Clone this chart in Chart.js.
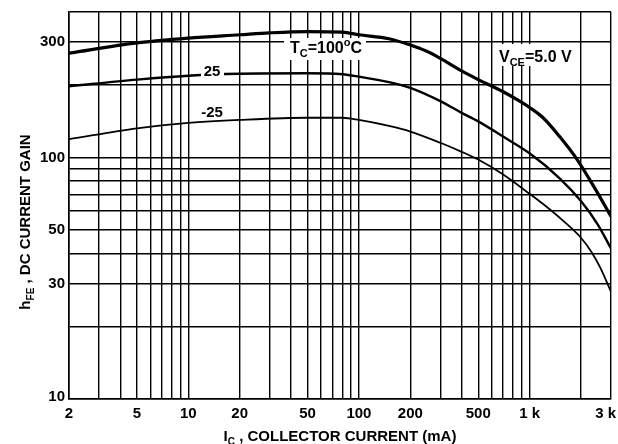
<!DOCTYPE html>
<html>
<head>
<meta charset="utf-8">
<script src="https://cdn.jsdelivr.net/npm/chart.js@4.4.1/dist/chart.umd.min.js"></script>
<style>
  html, body { margin: 0; padding: 0; background: #fff; }
  canvas { display: block; }
</style>
</head>
<body>
<canvas id="chart-hfe" width="618" height="444"></canvas>
<script>
// hFE vs collector current, three case temperatures (VCE = 5.0 V)

// grid + tick values
const gridCurrent = [2, 3, 4, 5, 6, 7, 8, 9, 10, 20, 30, 40, 50, 60, 70, 80, 90,
    100, 200, 300, 400, 500, 600, 700, 800, 900, 1000, 2000, 3000];
const gridGain = [10, 20, 30, 40, 50, 60, 70, 80, 90, 100, 200, 300, 400];
const currentTicks = [2, 5, 10, 20, 50, 100, 200, 500, 1000, 3000];
const currentTickLabels = ['2', '5', '10', '20', '50', '100', '200', '500', '1 k', '3 k'];
const gainTicks = [10, 30, 50, 100, 300];
const gainTickLabels = ['10', '30', '50', '100', '300'];

// Tc = 100 C
const ic100 = [2, 5, 10, 20, 30, 50, 80, 100, 150, 200, 250, 300, 400, 500, 700, 900, 1000, 1200, 1500, 1900, 2400, 3000];
const hfe100 = [270, 298, 312, 322, 328, 332, 330, 322, 310, 292, 275, 257, 228, 210, 187, 169, 161, 146, 122, 98, 75, 57];
// Tc = 25 C
const ic25 = [2, 5, 10, 20, 50, 80, 100, 150, 200, 300, 400, 500, 700, 1000, 1500, 2000, 2500, 3000];
const hfe25 = [197, 210, 218, 222, 223, 221, 216, 205, 194, 171, 153, 141, 122, 104, 82, 66, 53, 42];
// Tc = -25 C
const icM25 = [2, 5, 10, 20, 50, 80, 100, 150, 200, 300, 400, 500, 700, 1000, 1300, 1600, 2000, 2300, 2600, 3000];
const hfeM25 = [119, 132, 139, 143, 146, 146, 143, 135, 128, 115, 105.5, 98, 85, 70.7, 61.3, 54.1, 46.5, 40.7, 34.9, 27.8];

const FONT = '"Liberation Sans", Arial, sans-serif';

function pts(xs, ys) { return xs.map((x, i) => ({ x: x, y: ys[i] })); }

// draw text made of parts; part.s = 'sub' | 'sup' | undefined
function richText(ctx, parts, x, y, size, align) {
    const sized = parts.map(p => {
        const fs = p.s ? Math.round(size * 0.68) : size;
        ctx.font = 'bold ' + fs + 'px ' + FONT;
        return { t: p.t, s: p.s, fs: fs, w: ctx.measureText(p.t).width };
    });
    const total = sized.reduce((a, p) => a + p.w, 0);
    let cx = align === 'center' ? x - total / 2 : (align === 'right' ? x - total : x);
    ctx.textAlign = 'left';
    ctx.textBaseline = 'alphabetic';
    for (const p of sized) {
        ctx.font = 'bold ' + p.fs + 'px ' + FONT;
        let dy = 0;
        if (p.s === 'sub') dy = size * 0.28;
        if (p.s === 'sup') dy = -size * 0.42;
        ctx.fillText(p.t, cx, y + dy);
        cx += p.w;
    }
    return total;
}

const textPlugin = {
    id: 'textPlugin',
    afterDatasetsDraw(chart) {
        const ctx = chart.ctx;
        ctx.save();
        ctx.fillStyle = '#fff';
        // label backgrounds (break grid / curve like the print)
        ctx.fillRect(284, 38, 82, 22);
        ctx.fillRect(497, 44, 76, 22);
        ctx.fillRect(201, 62, 23, 17);
        ctx.fillStyle = '#000';
        richText(ctx, [{ t: 'T' }, { t: 'C', s: 'sub' }, { t: '=100' }, { t: 'o', s: 'sup' }, { t: 'C' }], 290, 52.5, 16, 'left');
        richText(ctx, [{ t: 'V' }, { t: 'CE', s: 'sub' }, { t: '=5.0 V' }], 499, 62, 16, 'left');
        richText(ctx, [{ t: '25' }], 212, 76, 15, 'center');
        richText(ctx, [{ t: '-25' }], 212, 117, 15, 'center');
        ctx.restore();
    },
    afterDraw(chart) {
        const ctx = chart.ctx;
        const xs = chart.scales.x, ys = chart.scales.y;
        ctx.save();
        ctx.fillStyle = '#000';
        ctx.font = 'bold 15px ' + FONT;
        ctx.textBaseline = 'middle';
        ctx.textAlign = 'right';
        gainTicks.forEach((v, i) => {
            const py = ys.getPixelForValue(v);
            ctx.fillText(gainTickLabels[i], 65, Math.min(py, 397));
        });
        ctx.textAlign = 'center';
        currentTicks.forEach((v, i) => {
            let px = xs.getPixelForValue(v);
            const w = ctx.measureText(currentTickLabels[i]).width;
            if (px + w / 2 > 616) px = 616 - w / 2;
            ctx.fillText(currentTickLabels[i], px, 414);
        });
        // axis titles
        richText(ctx, [{ t: 'I' }, { t: 'C', s: 'sub' }, { t: ' , COLLECTOR CURRENT (mA)' }], 340, 441, 15, 'center');
        ctx.translate(30, 222);
        ctx.rotate(-Math.PI / 2);
        richText(ctx, [{ t: 'h' }, { t: 'FE', s: 'sub' }, { t: ' , DC CURRENT GAIN' }], 0, 0, 15, 'center');
        ctx.restore();
    }
};

const gridStyle = { color: '#000', lineWidth: 1.4, drawTicks: false };

new Chart(document.getElementById('chart-hfe').getContext('2d'), {
    type: 'scatter',
    data: {
        datasets: [
            { label: 'Tc=100', data: pts(ic100, hfe100), borderColor: '#000', borderWidth: 3.2 },
            { label: 'Tc=25', data: pts(ic25, hfe25), borderColor: '#000', borderWidth: 2.4 },
            { label: 'Tc=-25', data: pts(icM25, hfeM25), borderColor: '#000', borderWidth: 1.8 },
        ].map(d => Object.assign(d, { showLine: true, pointRadius: 0, cubicInterpolationMode: 'monotone', fill: false })),
    },
    options: {
        responsive: false,
        animation: false,
        layout: { padding: { top: 12, right: 7, left: 0, bottom: 0 } },
        plugins: { legend: { display: false }, tooltip: { enabled: false } },
        scales: {
            x: {
                type: 'logarithmic', min: 2, max: 3000,
                grid: gridStyle,
                border: { display: true, color: '#000', width: 1.6 },
                ticks: { display: false },
                afterBuildTicks: s => { s.ticks = gridCurrent.map(v => ({ value: v })); },
                afterFit: s => { s.height = 45; },
            },
            y: {
                type: 'logarithmic', min: 10, max: 400,
                grid: gridStyle,
                border: { display: true, color: '#000', width: 1.6 },
                ticks: { display: false },
                afterBuildTicks: s => { s.ticks = gridGain.map(v => ({ value: v })); },
                afterFit: s => { s.width = 69; },
            },
        },
    },
    plugins: [textPlugin],
});
</script>
</body>
</html>
